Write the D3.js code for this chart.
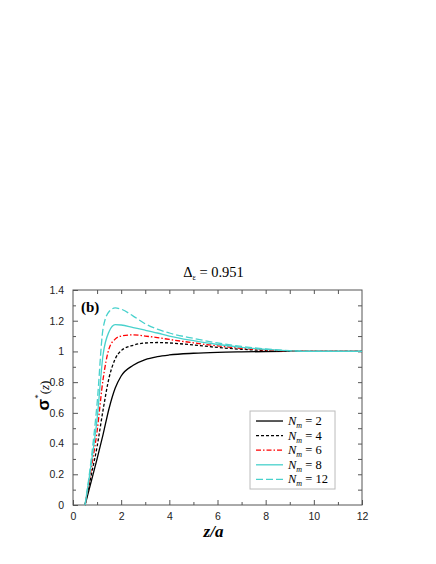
<!DOCTYPE html>
<html>
<head>
<meta charset="utf-8">
<script src="https://cdn.jsdelivr.net/npm/d3@7"></script>
<style>
  body { margin: 0; background: #fff; }
  svg { display: block; }
  .serif { font-family: "Liberation Serif", "DejaVu Serif", serif; }
  .sans { font-family: "Liberation Sans", "DejaVu Sans", sans-serif; }
</style>
</head>
<body>
<div id="chart"></div>
<script>
// sample positions along z/a
const zValues = [0.5, 0.75, 1, 1.25, 1.5, 1.75, 2, 2.5, 3, 3.5, 4, 5, 6, 7, 8, 9, 10, 11, 12];

// sigma*(z) for each N_m
const sigmaN2  = [0, 0.15, 0.30, 0.46, 0.63, 0.76, 0.84, 0.91, 0.947, 0.966, 0.977, 0.988, 0.994, 0.997, 0.999, 1.0, 1.0, 1.0, 1.0];
const sigmaN4  = [0, 0.19, 0.38, 0.62, 0.83, 0.95, 1.005, 1.04, 1.055, 1.058, 1.055, 1.042, 1.026, 1.014, 1.006, 1.002, 1.0, 1.0, 1.0];
const sigmaN6  = [0, 0.23, 0.48, 0.82, 1.02, 1.08, 1.10, 1.108, 1.10, 1.09, 1.078, 1.056, 1.036, 1.02, 1.009, 1.003, 1.0, 1.0, 1.0];
const sigmaN8  = [0, 0.26, 0.56, 0.98, 1.13, 1.175, 1.172, 1.155, 1.138, 1.12, 1.10, 1.07, 1.045, 1.027, 1.013, 1.004, 1.0, 1.0, 1.0];
const sigmaN12 = [0, 0.29, 0.66, 1.15, 1.26, 1.283, 1.275, 1.23, 1.18, 1.145, 1.12, 1.085, 1.055, 1.033, 1.016, 1.005, 1.0, 1.0, 1.0];

const seriesLabels = ['2', '4', '6', '8', '12'];
const xTickValues = [0, 2, 4, 6, 8, 10, 12];
const yTickValues = [0, 0.2, 0.4, 0.6, 0.8, 1, 1.2, 1.4];

const width = 436, height = 564;
const margin = { left: 73, right: 74, top: 290, bottom: 59 };
const innerW = width - margin.left - margin.right;
const innerH = height - margin.top - margin.bottom;

const turq = '#48d1cc';
const styles = [
  { color: '#000', dash: null },
  { color: '#000', dash: '3,2' },
  { color: '#ff0000', dash: '5,2,1.5,2' },
  { color: turq, dash: null },
  { color: turq, dash: '7,3' },
];

const series = [sigmaN2, sigmaN4, sigmaN6, sigmaN8, sigmaN12].map((vals, i) => ({
  label: seriesLabels[i],
  style: styles[i],
  points: zValues.map((z, j) => ({ z: z, s: vals[j] })),
}));

const svg = d3.select('#chart').append('svg')
  .attr('width', width)
  .attr('height', height);

const g = svg.append('g')
  .attr('transform', `translate(${margin.left},${margin.top})`);

const x = d3.scaleLinear().domain([0, 12]).range([0, innerW]);
const y = d3.scaleLinear().domain([0, 1.4]).range([innerH, 0]);

const fmt = d3.format('~g');

// axes, ticks pointing inward
function styleAxis(sel) {
  sel.attr('font-family', null).attr('font-size', null);
  sel.select('.domain').remove();
  sel.selectAll('line').attr('stroke', '#555');
  sel.selectAll('text').attr('class', 'sans').style('font-size', '10.5px').attr('fill', '#222');
}

g.append('g')
  .attr('transform', `translate(0,${innerH})`)
  .call(d3.axisBottom(x).tickValues(xTickValues).tickFormat(fmt).tickSize(-5).tickPadding(8))
  .call(styleAxis);
g.append('g')
  .attr('transform', `translate(0,${innerH})`)
  .call(d3.axisBottom(x).tickValues(d3.range(1, 12, 2)).tickFormat('').tickSize(-3))
  .call(styleAxis);
g.append('g')
  .call(d3.axisTop(x).tickValues(d3.range(1, 12)).tickFormat('').tickSize(-4))
  .call(styleAxis);

g.append('g')
  .call(d3.axisLeft(y).tickValues(yTickValues).tickFormat(fmt).tickSize(-5).tickPadding(9))
  .call(styleAxis);
g.append('g')
  .call(d3.axisLeft(y).tickValues(d3.range(0.1, 1.4, 0.2)).tickFormat('').tickSize(-3))
  .call(styleAxis);
g.append('g')
  .attr('transform', `translate(${innerW},0)`)
  .call(d3.axisRight(y).tickValues(d3.range(0.1, 1.4, 0.1)).tickFormat('').tickSize(-4))
  .call(styleAxis);

// frame
g.append('rect')
  .attr('width', innerW)
  .attr('height', innerH)
  .attr('fill', 'none')
  .attr('stroke', '#555')
  .attr('stroke-width', 1);

// curves
const line = d3.line()
  .x((d) => x(d.z))
  .y((d) => y(d.s))
  .curve(d3.curveMonotoneX);

g.selectAll('.curve')
  .data(series)
  .join('path')
  .attr('class', 'curve')
  .attr('d', (d) => line(d.points))
  .attr('fill', 'none')
  .attr('stroke', (d) => d.style.color)
  .attr('stroke-width', 1.3)
  .attr('stroke-dasharray', (d) => d.style.dash);

// panel tag
g.append('text')
  .attr('class', 'serif')
  .attr('x', 8)
  .attr('y', 22)
  .style('font-weight', 'bold')
  .style('font-size', '15px')
  .text('(b)');

// legend
const leg = g.append('g').attr('transform', `translate(${x(7.35)},${y(0.612)})`);
leg.append('rect')
  .attr('width', 85)
  .attr('height', 78)
  .attr('fill', '#fff')
  .attr('stroke', '#bbb');

const rows = leg.selectAll('.row')
  .data(series)
  .join('g')
  .attr('class', 'row')
  .attr('transform', (d, i) => `translate(0,${10 + i * 14.6})`);

rows.append('line')
  .attr('x1', 6).attr('x2', 33)
  .attr('stroke', (d) => d.style.color)
  .attr('stroke-width', 1.3)
  .attr('stroke-dasharray', (d) => d.style.dash);

const legText = rows.append('text')
  .attr('class', 'serif')
  .attr('x', 38)
  .attr('y', 4)
  .style('font-size', '12.5px');
legText.append('tspan').style('font-style', 'italic').text('N');
legText.append('tspan').style('font-style', 'italic').style('font-size', '8px').attr('dy', 3).text('m');
legText.append('tspan').attr('dy', -3).text((d) => ' = ' + d.label);

// title
const title = svg.append('text')
  .attr('class', 'serif')
  .attr('x', margin.left + innerW / 2 - 4)
  .attr('y', 277)
  .attr('text-anchor', 'middle')
  .style('font-size', '14.5px');
title.append('tspan').text('Δ');
title.append('tspan').style('font-size', '8px').attr('dy', 3).text('ε');
title.append('tspan').attr('dy', -3).text(' = 0.951');

// x label
svg.append('text')
  .attr('class', 'serif')
  .attr('x', margin.left + innerW / 2 - 4)
  .attr('y', 537)
  .attr('text-anchor', 'middle')
  .style('font-weight', 'bold')
  .style('font-style', 'italic')
  .style('font-size', '17px')
  .text('z/a');

// y label
const ylab = svg.append('text')
  .attr('class', 'serif')
  .attr('transform', `translate(49,${margin.top + innerH / 2 - 2}) rotate(-90)`)
  .attr('text-anchor', 'middle');
ylab.append('tspan').attr('class', 'sans').style('font-weight', 'bold').style('font-size', '17px').text('σ');
ylab.append('tspan').style('font-size', '9px').attr('dy', -8).text('*');
ylab.append('tspan').style('font-size', '13px').attr('dy', 8).text('(');
ylab.append('tspan').style('font-size', '13px').style('font-style', 'italic').text('z');
ylab.append('tspan').style('font-size', '13px').text(')');
</script>
</body>
</html>
